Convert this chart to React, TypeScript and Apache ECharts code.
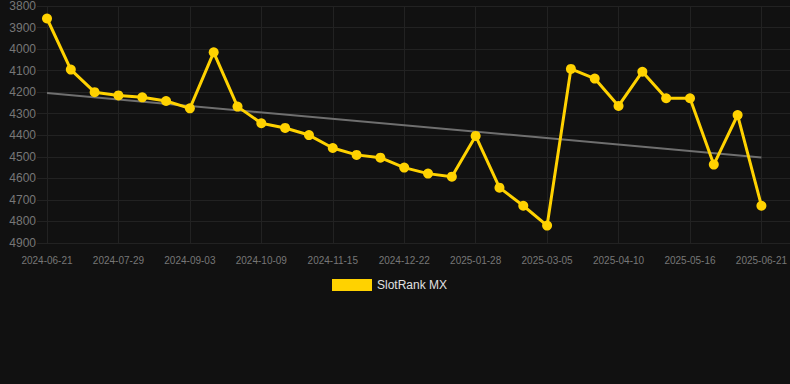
import React, { useEffect, useRef } from "react";
import * as echarts from "echarts";

const dates = [
  "2024-06-21", "2024-07-04", "2024-07-16", "2024-07-29", "2024-08-10", "2024-08-22",
  "2024-09-03", "2024-09-15", "2024-09-27", "2024-10-09", "2024-10-21", "2024-11-02",
  "2024-11-15", "2024-11-27", "2024-12-09", "2024-12-22", "2025-01-03", "2025-01-15",
  "2025-01-28", "2025-02-09", "2025-02-21", "2025-03-05", "2025-03-17", "2025-03-29",
  "2025-04-10", "2025-04-22", "2025-05-04", "2025-05-16", "2025-05-28", "2025-06-09",
  "2025-06-21",
];

const rankValues = [
  3858, 4095, 4200, 4215, 4224, 4241, 4275, 4015, 4267, 4344, 4366, 4399, 4459, 4491,
  4504, 4550, 4578, 4592, 4403, 4643, 4727, 4819, 4092, 4137, 4264, 4105, 4228, 4228,
  4536, 4306, 4727,
];

const trendStart = 4204;
const trendEnd = 4503;

const yMin = 3800;
const yMax = 4900;
const yStep = 100;

export default function App() {
  const ref = useRef<HTMLDivElement>(null);

  useEffect(() => {
    document.body.style.margin = "0";
    document.body.style.background = "#111111";
    if (!ref.current) return;
    const chart = echarts.init(ref.current, undefined, { renderer: "svg" });
    const font = "'Liberation Sans', Arial, sans-serif";
    const gridColor = "#222222";
    chart.setOption({
      animation: false,
      backgroundColor: "#111111",
      textStyle: { fontFamily: font },
      legend: {
        data: ["SlotRank MX"],
        top: 279,
        left: 332,
        padding: 0,
        itemWidth: 40,
        itemHeight: 12,
        itemGap: 10,
        icon: "rect",
        textStyle: { color: "#e0e0e0", fontSize: 12, fontFamily: font },
      },
      grid: [
        { left: 37, right: 0, top: 6, height: 237 },
        { left: 47, right: 28, top: 6, height: 237 },
      ],
      xAxis: [
        {
          type: "category",
          gridIndex: 0,
          data: dates,
          show: false,
        },
        {
          type: "category",
          gridIndex: 1,
          data: dates,
          boundaryGap: false,
          axisLine: { show: false },
          axisTick: { show: false },
          axisLabel: {
            interval: 2,
            color: "#777777",
            fontSize: 10,
            margin: 12,
            fontFamily: font,
          },
          splitLine: {
            show: true,
            interval: 2,
            lineStyle: { color: gridColor, width: 1 },
          },
        },
      ],
      yAxis: [
        {
          type: "value",
          gridIndex: 0,
          inverse: true,
          min: yMin,
          max: yMax,
          interval: yStep,
          axisLine: { show: false },
          axisTick: { show: false },
          axisLabel: {
            color: "#777777",
            fontSize: 12,
            margin: 1,
            fontFamily: font,
            formatter: (v: number) => String(v),
          },
          splitLine: { show: true, lineStyle: { color: gridColor, width: 1 } },
        },
        {
          type: "value",
          gridIndex: 1,
          inverse: true,
          min: yMin,
          max: yMax,
          interval: yStep,
          show: false,
          splitLine: { show: false },
        },
      ],
      series: [
        {
          name: "Trend",
          type: "line",
          xAxisIndex: 1,
          yAxisIndex: 1,
          data: [
            [dates[0], trendStart],
            [dates[dates.length - 1], trendEnd],
          ],
          showSymbol: false,
          symbol: "none",
          lineStyle: { color: "#6f6f6f", width: 2 },
          z: 2,
        },
        {
          name: "SlotRank MX",
          type: "line",
          xAxisIndex: 1,
          yAxisIndex: 1,
          data: rankValues,
          symbol: "circle",
          symbolSize: 10,
          itemStyle: { color: "#FFD200" },
          lineStyle: { color: "#FFD200", width: 3 },
          z: 3,
        },
      ],
    });
    return () => chart.dispose();
  }, []);

  return <div ref={ref} style={{ width: 790, height: 384 }} />;
}
